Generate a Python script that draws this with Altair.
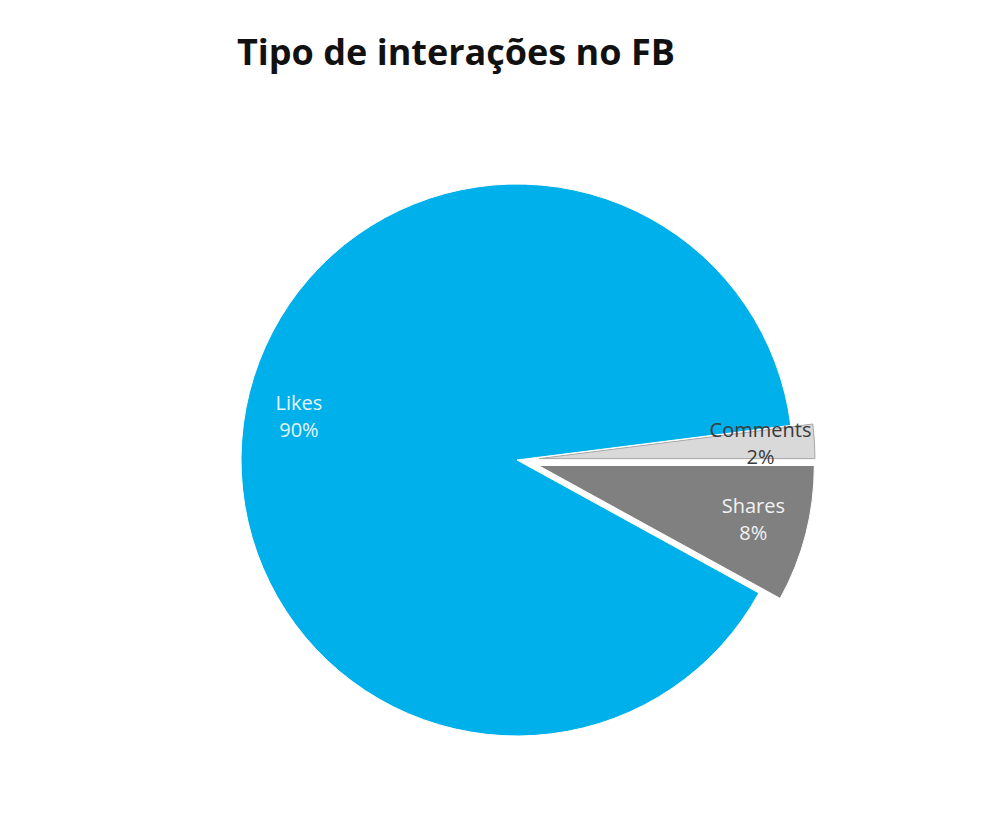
import altair as alt
import pandas as pd

categories = ["Comments", "Shares", "Likes"]
shares_pct = [2, 8, 90]
colors = ["#D9D9D9", "#808080", "#00B0EA"]
stroke_colors = ["#A6A6A6", "#FFFFFF", "#FFFFFF"]
label_colors = ["#3A3A3A", "#F2F2F2", "#E6F6FD"]
explode = [22, 22, 0]

df = pd.DataFrame({
    "cat": categories,
    "val": shares_pct,
    "explode": explode,
    "tcolor": label_colors,
})

base = alt.Chart(df).transform_window(
    cum="sum(val)", frame=[None, 0]
).transform_calculate(
    start0="2*PI*(0.25 - 0.02)",
).transform_calculate(
    t0="datum.start0 + 2*PI*(datum.cum - datum.val)/100",
    t1="datum.start0 + 2*PI*datum.cum/100",
).transform_calculate(
    tm="(datum.t0 + datum.t1)/2",
).transform_calculate(
    ox="datum.explode*sin(datum.tm)",
    oy="-datum.explode*cos(datum.tm)",
    label="datum.cat + '\\n' + datum.val + '%'",
)

arcs = base.mark_arc(outerRadius=276, strokeWidth=1).encode(
    theta=alt.Theta("t0:Q", scale=None),
    theta2="t1:Q",
    color=alt.Color("cat:N", scale=alt.Scale(domain=categories, range=colors), legend=None),
    stroke=alt.Stroke("cat:N", scale=alt.Scale(domain=categories, range=stroke_colors), legend=None),
    xOffset=alt.XOffset("ox:Q", scale=None),
    yOffset=alt.YOffset("oy:Q", scale=None),
)

labels = base.mark_text(
    radius=222, font="Open Sans", fontSize=20, lineBreak="\n", lineHeight=27, dy=-14
).encode(
    theta=alt.Theta("tm:Q", scale=None),
    text="label:N",
    color=alt.Color("tcolor:N", scale=None),
    xOffset=alt.XOffset("ox:Q", scale=None),
    yOffset=alt.YOffset("oy:Q", scale=None),
)

chart = alt.layer(arcs, labels).properties(
    width=600,
    height=600,
    padding={"left": 209, "top": 152, "right": 0, "bottom": 0},
    autosize=alt.AutoSizeParams(type="none"),
    title=alt.TitleParams(
        "Tipo de interações no FB",
        anchor="start",
        dx=20,
        offset=87,
        font="Open Sans",
        fontSize=36,
        fontWeight="bold",
        color="#111111",
    ),
).configure_view(stroke=None)

chart.save("out.html", embed_options={"renderer": "svg", "actions": False})
